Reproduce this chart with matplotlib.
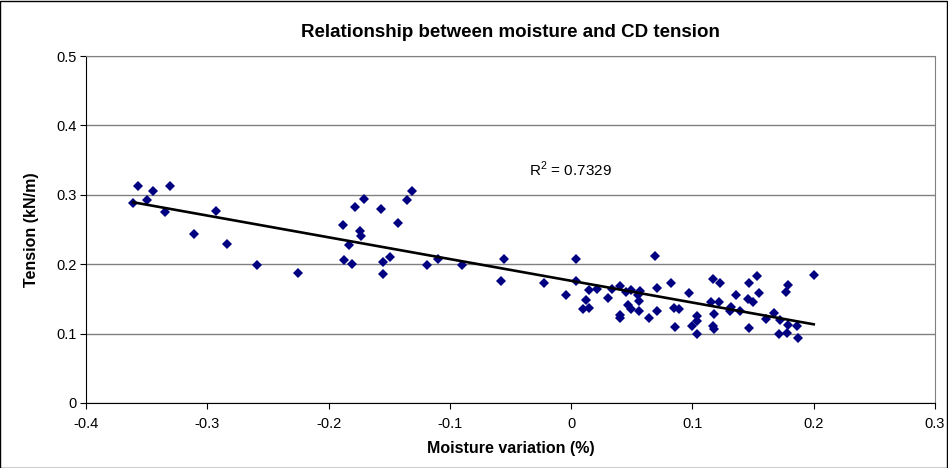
import numpy as np
import matplotlib
matplotlib.use("Agg")
import matplotlib.pyplot as plt
from matplotlib.ticker import FuncFormatter
from matplotlib.patches import Rectangle

# ---- data ----
moisture = [
    -0.357, -0.345, -0.331, -0.361, -0.350, -0.335, -0.293, -0.311, -0.284, -0.259, -0.225,
    -0.131, -0.135, -0.171, -0.178, -0.157, -0.188, -0.143, -0.174, -0.173, -0.183, -0.187,
    -0.181, -0.155, -0.149, -0.155, -0.119, -0.110, -0.090, -0.055, -0.058, -0.022,
    0.004, 0.069, -0.004, 0.004, 0.012, 0.010, 0.015, 0.015, 0.021, 0.030, 0.034, 0.040,
    0.040, 0.040, 0.045, 0.049, 0.047, 0.049, 0.055, 0.057, 0.056, 0.056, 0.064, 0.071,
    0.071, 0.082, 0.085, 0.089, 0.086, 0.097, 0.100, 0.104, 0.104, 0.104, 0.117, 0.123,
    0.115, 0.122, 0.118, 0.117, 0.118, 0.132, 0.136,
    0.147, 0.153, 0.155, 0.146, 0.150, 0.139, 0.131, 0.147, 0.167, 0.161, 0.172, 0.179,
    0.186, 0.171, 0.178, 0.187, 0.179, 0.177, 0.200,
]
tension = [
    0.312, 0.305, 0.312, 0.288, 0.293, 0.275, 0.276, 0.244, 0.229, 0.199, 0.188,
    0.306, 0.292, 0.294, 0.282, 0.280, 0.257, 0.259, 0.248, 0.241, 0.228, 0.206,
    0.201, 0.203, 0.211, 0.186, 0.199, 0.208, 0.199, 0.207, 0.176, 0.173,
    0.207, 0.212, 0.156, 0.176, 0.148, 0.135, 0.137, 0.163, 0.164, 0.152, 0.164, 0.168,
    0.127, 0.122, 0.160, 0.163, 0.141, 0.135, 0.156, 0.161, 0.147, 0.133, 0.122, 0.165,
    0.133, 0.173, 0.137, 0.135, 0.110, 0.158, 0.111, 0.126, 0.118, 0.099, 0.178, 0.173,
    0.146, 0.146, 0.128, 0.111, 0.106, 0.138, 0.156,
    0.173, 0.183, 0.159, 0.150, 0.145, 0.132, 0.133, 0.108, 0.130, 0.121, 0.120, 0.112,
    0.111, 0.099, 0.101, 0.094, 0.170, 0.160, 0.184,
]
r2_label = "R$^2$ = 0.7329"
x_ticks = [-0.4, -0.3, -0.2, -0.1, 0, 0.1, 0.2, 0.3]
y_ticks = [0, 0.1, 0.2, 0.3, 0.4, 0.5]

plt.rcParams['font.family'] = ['Liberation Sans', 'DejaVu Sans']
plt.rcParams['mathtext.fontset'] = 'custom'
plt.rcParams['mathtext.rm'] = 'Liberation Sans'

fig = plt.figure(figsize=(9.48, 4.68), dpi=100)
ax = fig.add_axes([0.0907, 0.1389, 0.8956, 0.7414])

x = np.array(moisture)
y = np.array(tension)
ax.plot(x, y, linestyle='none', marker='D', markersize=4.8,
        color='#000080', markeredgewidth=0, zorder=3)

# linear trendline
coef = np.polyfit(x, y, 1)
xs = np.array([x.min(), x.max()])
ax.plot(xs, np.polyval(coef, xs), color='black', linewidth=1.9, zorder=4)
ax.text(-0.035, 0.336, r2_label, fontsize=11, ha='left', va='center')

ax.set_xlim(-0.4, 0.3)
ax.set_ylim(0, 0.5)
ax.set_xticks(x_ticks)
ax.set_yticks(y_ticks)
fmt = FuncFormatter(lambda v, p: ('%g' % round(v, 2)))
ax.xaxis.set_major_formatter(fmt)
ax.yaxis.set_major_formatter(fmt)
ax.tick_params(axis='both', direction='out', length=4, width=0.8,
               labelsize=10.5, colors='black', pad=3)
ax.tick_params(axis='x', pad=6)

ax.grid(axis='y', color='#808080', linewidth=1)
ax.set_axisbelow(True)
for side in ['top', 'right']:
    ax.spines[side].set_color('#808080')
for side in ['left', 'bottom']:
    ax.spines[side].set_color('black')

ax.set_title('Relationship between moisture and CD tension',
             fontsize=13.5, fontweight='bold', pad=14)
ax.set_xlabel('Moisture variation (%)', fontsize=11.5, fontweight='bold', labelpad=7)
ax.set_ylabel('Tension (kN/m)', fontsize=11.5, fontweight='bold', labelpad=12)

# chart border
fig.patches.append(Rectangle((0.0005, 0.001), 0.998, 0.997, transform=fig.transFigure,
                             fill=False, edgecolor='black', linewidth=1))

fig.savefig('out.png', dpi=100)
